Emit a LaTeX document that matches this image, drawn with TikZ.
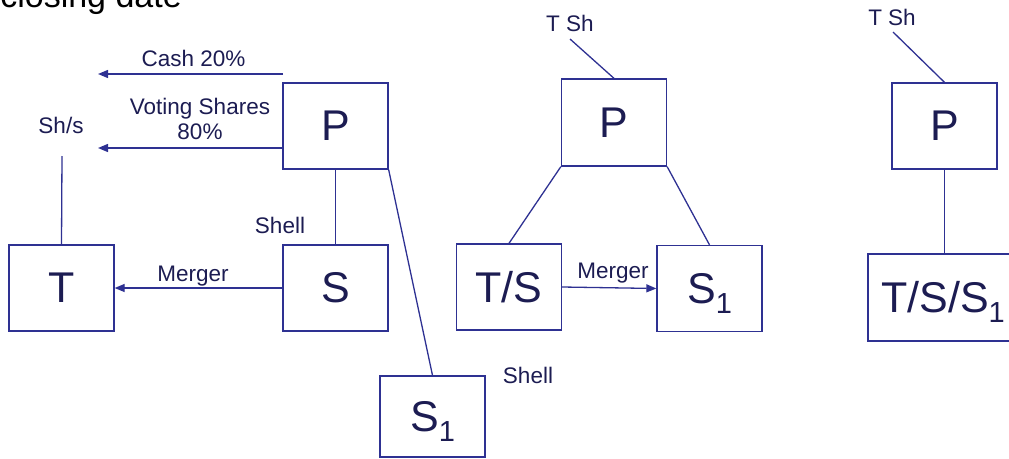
\documentclass[tikz,border=0pt]{standalone}
\usepackage{fontspec}
\setmainfont{Liberation Sans}
\usetikzlibrary{arrows.meta}
\definecolor{navyline}{RGB}{46,49,146}
\definecolor{navytext}{RGB}{28,28,82}
% subscript "1" hanging below the baseline without changing the box height
\newcommand\subone{\raisebox{-10pt}[0pt][0pt]{\fontsize{29pt}{30pt}\selectfont 1}}

\begin{document}
\begin{tikzpicture}[x=1pt,y=-1pt,
  entity/.style={draw=navyline, line width=1.3pt, minimum width=105pt,
    minimum height=86pt, inner sep=0pt, text=navytext,
    font=\fontsize{43pt}{50pt}\selectfont},
  lbl/.style={text=navytext, font=\fontsize{22.5pt}{25pt}\selectfont,
    inner sep=0pt, anchor=base},
  link/.style={draw=navyline, line width=1.3pt},
  flow/.style={link, -{Triangle[length=10pt,width=8pt]}}]
\useasboundingbox (0,0) rectangle (1009,458);
\clip (0,0) rectangle (1009,458);

% heading
\node[anchor=base east, inner sep=0pt, font=\fontsize{34pt}{40pt}\selectfont]
  (head) at (182,7) {closing date};

% ---- before the merger ----
\node[entity] (P1) at (335.5,126) {P};
\node[entity] (T) at (61.5,288) {T};
\node[entity] (S) at (335.5,288) {S};
\node[entity, minimum height=81pt] (S1b) at (432.5,416.5) {S\subone};

\coordinate (cashfrom) at (283,74);
\coordinate (cashto) at (98,74);
\coordinate (voteto) at (98,148);
\coordinate (shstop) at (62,156);

\node[lbl] (cash) at (193.5,66) {Cash 20\%};
\node[lbl, anchor=center, align=center] (vote) at (200,118.5) {Voting Shares\\80\%};
\node[lbl] (shs) at (61,133) {Sh/s};
\node[lbl] (shell1) at (280,233) {Shell};
\node[lbl] (merge1) at (193,281) {Merger};
\node[lbl] (shell2) at (528,383) {Shell};

\draw[flow] (cashfrom) -- (cashto);
\draw[flow] (P1.west |- voteto) -- (voteto);
\draw[link] (shstop) -- (T.north);
\draw[link] (P1.south) -- (S.north);
\draw[flow] (S.west) -- (T.east);
\draw[link] (P1.south east) -- (S1b.north);

% ---- after the first merger ----
\node[entity, minimum height=87pt] (P2) at (614,122.5) {P};
\node[entity] (TS) at (509,287) {T/S};
\node[entity] (S1m) at (709.5,288.5) {S\subone};
\coordinate (tsh2end) at (570,39);

\node[lbl] (tsh2) at (570,31) {T Sh};
\node[lbl] (merge2) at (613,278) {Merger};

\draw[link] (tsh2end) -- (P2.north);
\draw[link] (P2.south west) -- (TS.north);
\draw[link] (P2.south east) -- (S1m.north);
\draw[flow] (TS.east) -- (S1m.west);

% ---- final structure ----
\node[entity] (P3) at (944.5,126) {P};
\node[entity, minimum width=150pt, minimum height=87pt] (TSS) at (943,297.5) {T/S/S\subone};
\coordinate (tsh3end) at (893,32);

\node[lbl] (tsh3) at (892,25) {T Sh};

\draw[link] (tsh3end) -- (P3.north);
\draw[link] (P3.south) -- (P3.south |- TSS.north);
\end{tikzpicture}
\end{document}
